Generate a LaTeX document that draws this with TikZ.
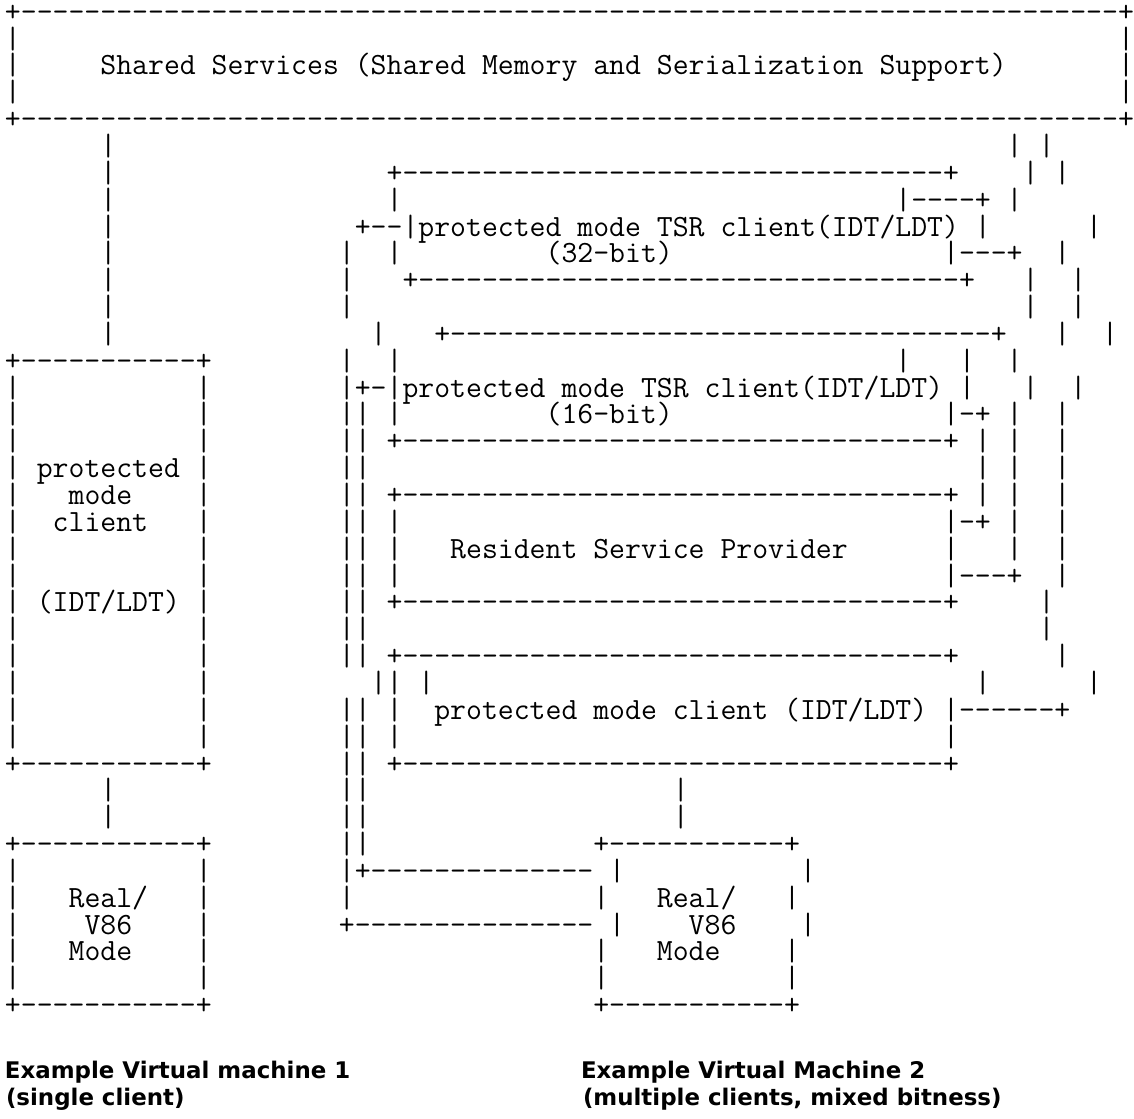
\documentclass[tikz,border=0pt]{standalone}
\usepackage{fontspec}
\newfontfamily\lblfont{DejaVu Sans}
\newcounter{sg}
\newlength\cw
\AtBeginDocument{%
  \settowidth\cw{\fontsize{30pt}{30pt}\selectfont\ttfamily M}%
  \pgfmathsetmacro\msize{30*15.9/\cw}%
  \xdef\msize{\msize}}
\def\mf{\fontsize{\msize pt}{\msize pt}\selectfont\ttfamily}
\begin{document}
\begin{tikzpicture}[x=1pt,y=-1pt,
  txt/.style={anchor=base west,inner sep=0pt,outer sep=0pt,font=\mf,text height=20.5pt,text depth=5.5pt},
  lab/.style={anchor=base west,inner sep=0pt,outer sep=0pt,font=\lblfont\bfseries\fontsize{22.9pt}{27pt}\selectfont}]
\def\D#1{\foreach \i in {1,...,#1}{-\kern0pt}}
\def\T#1#2#3{\stepcounter{sg}\node[txt] (s\arabic{sg}) at ({5+15.9*#2},{21.2+26.85*#1}) {#3};}
\def\B#1#2{\foreach \c in {#2}{\T{#1}{\c}{|}}}
\fill[white,use as bounding box] (0,0) rectangle (1134,1118);
% shared services box
\T{0}{0}{+\D{69}+}
\B{1}{0,70}
\B{2}{0,70}\T{2}{6}{Shared Services (Shared Memory and Serialization Support)}
\B{3}{0,70}
\T{4}{0}{+\D{69}+}
% rows 5-12
\B{5}{6,63,65}
\B{6}{6,64,66}\T{6}{24}{+\D{34}+}
\B{7}{6,24,63}\T{7}{56}{|\D{4}+}
\B{8}{6,61,68}\T{8}{22}{+\D{2}|protected mode TSR client(IDT/LDT)}
\B{9}{6,21,24,66}\T{9}{34}{(32-bit)}\T{9}{59}{|\D{3}+}
\B{10}{6,21,64,67}\T{10}{25}{+\D{34}+}
\B{11}{6,21,64,67}
\B{12}{6,23,66,69}\T{12}{27}{+\D{34}+}
% rows 13-28
\T{13}{0}{+\D{11}+}\B{13}{21,24,56,60,63}
\B{14}{0,12,21,60,64,67}\T{14}{22}{+-|protected mode TSR client(IDT/LDT)}
\B{15}{0,12,21,22,24,63,66}\T{15}{34}{(16-bit)}\T{15}{59}{|-+}
\B{16}{0,12,21,22,61,63,66}\T{16}{24}{+\D{34}+}
\B{17}{0,12,21,22,61,63,66}\T{17}{2}{protected}
\B{18}{0,12,21,22,61,63,66}\T{18}{4}{mode}\T{18}{24}{+\D{34}+}
\B{19}{0,12,21,22,24,63,66}\T{19}{3}{client}\T{19}{59}{|-+}
\B{20}{0,12,21,22,24,59,63,66}\T{20}{28}{Resident Service Provider}
\B{21}{0,12,21,22,24,66}\T{21}{59}{|\D{3}+}
\B{22}{0,12,21,22,65}\T{22}{2}{(IDT/LDT)}\T{22}{24}{+\D{34}+}
\B{23}{0,12,21,22,65}
\B{24}{0,12,21,22,66}\T{24}{24}{+\D{34}+}
\B{25}{0,12,23,24,26,61,68}
\B{26}{0,12,21,22,24}\T{26}{27}{protected mode client (IDT/LDT)}\T{26}{59}{|\D{6}+}
\B{27}{0,12,21,22,24,59}
\T{28}{0}{+\D{11}+}\B{28}{21,22}\T{28}{24}{+\D{34}+}
% rows 29-37
\B{29}{6,21,22,42}
\B{30}{6,21,22,42}
\T{31}{0}{+\D{11}+}\B{31}{21,22}\T{31}{37}{+\D{11}+}
\B{32}{0,12,21,38,50}\T{32}{22}{+\D{14}}
\B{33}{0,12,21,37,49}\T{33}{4}{Real/}\T{33}{41}{Real/}
\B{34}{0,12,38,50}\T{34}{5}{V86}\T{34}{21}{+\D{15}}\T{34}{43}{V86}
\B{35}{0,12,37,49}\T{35}{4}{Mode}\T{35}{41}{Mode}
\B{36}{0,12,37,49}
\T{37}{0}{+\D{11}+}\T{37}{37}{+\D{11}+}
% labels
\node[lab] (l1) at (5,1078) {Example Virtual machine 1};
\node[lab] (l2) at (6,1105) {(single client)};
\node[lab] (l3) at (581,1078) {Example Virtual Machine 2};
\node[lab] (l4) at (583,1105) {(multiple clients, mixed bitness)};
\end{tikzpicture}
\end{document}
